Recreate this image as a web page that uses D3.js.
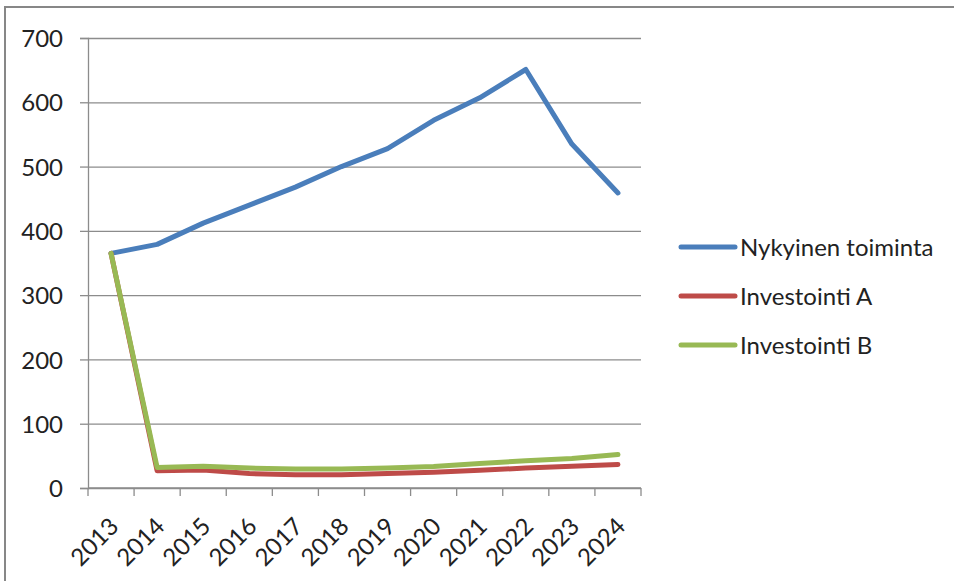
<!DOCTYPE html>
<html>
<head>
<meta charset="utf-8">
<script src="https://cdn.jsdelivr.net/npm/d3@7"></script>
<style>
  body { margin: 0; background: #fff; }
  svg { display: block; font-family: Lato, "Open Sans", sans-serif; }
</style>
</head>
<body>
<div class="chart"></div>
<script>
// data
const years = ["2013", "2014", "2015", "2016", "2017", "2018", "2019", "2020", "2021", "2022", "2023", "2024"];
const nykyinen = [365, 379, 412, 440, 468, 500, 528, 572, 607, 651, 535, 459];
const investA = [365, 27, 28, 22.5, 20.5, 20.5, 22.5, 24.5, 27.5, 31, 34, 36.5];
const investB = [365, 32, 34, 31, 29.5, 29.5, 31, 33.5, 38, 42.5, 46, 52];
const seriesNames = ["Nykyinen toiminta", "Investointi A", "Investointi B"];
const yTicks = [0, 100, 200, 300, 400, 500, 600, 700];

const W = 954, H = 581;
const plotLeft = 88, plotRight = 641, plotTop = 38, plotBottom = 488;
const colors = ["#4a7ebb", "#be4b48", "#98b954"];
const gridColor = "#8c8c8c";

const svg = d3.select(".chart").append("svg")
    .attr("width", W)
    .attr("height", H);

// chart frame (only top and left edges are visible in the crop)
svg.append("path")
    .attr("d", `M5,${H} L5,7 L${W},7`)
    .attr("fill", "none")
    .attr("stroke", "#878787")
    .attr("stroke-width", 2);

const x = d3.scaleBand().domain(years).range([plotLeft, plotRight]).paddingInner(0).paddingOuter(0);
const y = d3.scaleLinear().domain([0, 700]).range([plotBottom, plotTop]);

//gridlines + y labels
const yAxis = svg.append("g")
    .attr("transform", `translate(${plotLeft},0)`)
    .call(d3.axisLeft(y).tickValues(yTicks).tickSize(8).tickPadding(17))
    .attr("font-family", null);
yAxis.select(".domain").attr("stroke", gridColor).attr("stroke-width", 1.3);
yAxis.selectAll(".tick line").attr("stroke", gridColor).attr("stroke-width", 1.3);
yAxis.selectAll(".tick").append("line")
    .attr("x1", 0).attr("x2", plotRight - plotLeft)
    .attr("stroke", gridColor).attr("stroke-width", 1.3);
yAxis.selectAll(".tick text")
    .attr("fill", "#222")
    .style("font-size", "24px")
    .attr("dy", "0.36em");

//x axis with ticks between categories
const xAxis = svg.append("g")
    .attr("transform", `translate(0,${plotBottom})`);
xAxis.append("line")
    .attr("x1", plotLeft).attr("x2", plotRight)
    .attr("stroke", gridColor).attr("stroke-width", 1.3);
xAxis.selectAll(".xtick")
    .data(years.concat(["end"]))
    .enter().append("line")
    .attr("x1", d => d === "end" ? plotRight : x(d))
    .attr("x2", d => d === "end" ? plotRight : x(d))
    .attr("y1", 0).attr("y2", 8)
    .attr("stroke", gridColor).attr("stroke-width", 1.3);
xAxis.selectAll(".xlabel")
    .data(years)
    .enter().append("text")
    .attr("transform", d => `translate(${x(d) + x.bandwidth() / 2 + 9},${40}) rotate(-45)`)
    .attr("text-anchor", "end")
    .attr("fill", "#222")
    .style("font-size", "24px")
    .text(d => d);

// lines
const line = d3.line()
    .x((d, i) => x(years[i]) + x.bandwidth() / 2)
    .y(d => y(d));

[nykyinen, investA, investB].forEach((vals, k) => {
    svg.append("path")
        .datum(vals)
        .attr("d", line)
        .attr("fill", "none")
        .attr("stroke", colors[k])
        .attr("stroke-width", 5)
        .attr("stroke-linejoin", "round")
        .attr("stroke-linecap", "round");
});

// legend
const legend = svg.append("g").selectAll("g")
    .data(seriesNames)
    .enter().append("g")
    .attr("transform", (d, i) => `translate(681,${247 + i * 49})`);
legend.append("line")
    .attr("x1", 0).attr("x2", 54)
    .attr("stroke", (d, i) => colors[i])
    .attr("stroke-width", 5)
    .attr("stroke-linecap", "round");
legend.append("text")
    .attr("x", 59)
    .attr("dy", "0.36em")
    .attr("fill", "#222")
    .style("font-size", "24px")
    .text(d => d);
</script>
</body>
</html>
